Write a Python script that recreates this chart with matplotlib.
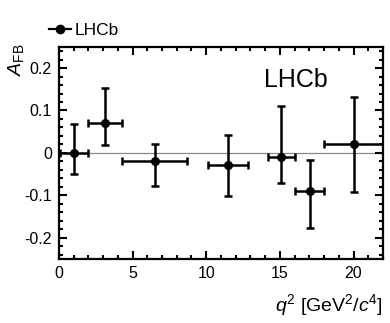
import matplotlib
matplotlib.use("Agg")
from matplotlib import pyplot as plt
from matplotlib.lines import Line2D
from matplotlib.ticker import MultipleLocator

plt.rcParams["font.family"] = ["Liberation Sans", "DejaVu Sans"]
plt.rcParams["mathtext.fontset"] = "custom"
plt.rcParams["mathtext.rm"] = "Liberation Sans"
plt.rcParams["mathtext.it"] = "Liberation Sans:italic"

# q2 bins and forward-backward asymmetry
q2 = [1.0, 3.15, 6.5, 11.5, 15.1, 17.05, 20.0]
q2_lo = [0.1, 2.0, 4.3, 10.09, 14.18, 16.0, 18.0]
q2_hi = [2.0, 4.3, 8.68, 12.86, 16.0, 18.0, 22.0]
afb = [0.0, 0.07, -0.02, -0.029, -0.01, -0.089, 0.021]
afb_up = [0.068, 0.152, 0.022, 0.043, 0.111, -0.016, 0.131]
afb_dn = [-0.05, 0.019, -0.078, -0.101, -0.07, -0.178, -0.091]

xerr = [[x - lo for x, lo in zip(q2, q2_lo)], [hi - x for x, hi in zip(q2, q2_hi)]]
yerr = [[y - d for y, d in zip(afb, afb_dn)], [u - y for y, u in zip(afb, afb_up)]]

fig = plt.figure(figsize=(3.9, 3.23), dpi=100)
ax = fig.add_axes([0.151, 0.198, 0.831, 0.657])

ax.axhline(0, color="#888888", lw=0.9, zorder=1)
ax.errorbar(q2, afb, xerr=xerr, yerr=yerr, fmt="o", color="black", ms=5.5,
            elinewidth=1.8, capsize=3, capthick=1.8, zorder=3)

ax.set_xlim(0, 22)
ax.set_ylim(-0.25, 0.25)
ax.xaxis.set_minor_locator(MultipleLocator(1))
ax.yaxis.set_minor_locator(MultipleLocator(0.02))
ax.set_yticks([-0.2, -0.1, 0, 0.1, 0.2])
ax.set_yticklabels(["-0.2", "-0.1", "0", "0.1", "0.2"])
ax.set_xticks([0, 5, 10, 15, 20])
ax.set_xticklabels(["0", "5", "10", "15", "20"])
ax.tick_params(which="both", direction="in", top=True, right=True, width=1.5, labelsize=11.5)
ax.tick_params(which="major", length=5.5, pad=5)
ax.tick_params(which="minor", length=3)
for s in ax.spines.values():
    s.set_linewidth(1.6)

ax.text(0.731, 0.843, "LHCb", transform=ax.transAxes, fontsize=18, ha="center", va="center")

fig.text(0.04, 0.815, r"$A_{\rm FB}$", rotation=90, fontsize=14, ha="center", va="center")
fig.text(0.982, 0.056, r"$q^2$ [GeV$^2$/$c^4$]", fontsize=14, ha="right", va="center")

handle = Line2D([], [], color="black", marker="o", ms=6, lw=1.6)
fig.legend([handle], ["LHCb"], loc="center left", bbox_to_anchor=(0.125, 0.907), frameon=False,
           fontsize=12.5, handlelength=1.3, handletextpad=0.2, borderpad=0, borderaxespad=0)

fig.savefig("out.png", dpi=100)
